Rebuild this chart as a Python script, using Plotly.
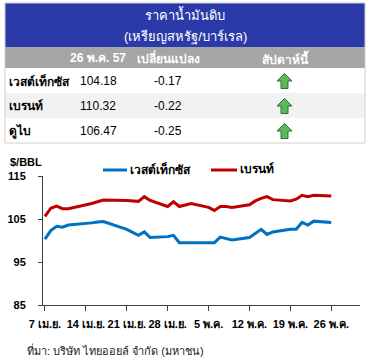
import plotly.graph_objects as go

W, H = 374, 362

# ---------------- data ----------------
dates = ["2014-04-07", "2014-04-08", "2014-04-09", "2014-04-10", "2014-04-11",
         "2014-04-14", "2014-04-15", "2014-04-16", "2014-04-17",
         "2014-04-21", "2014-04-22", "2014-04-23", "2014-04-24", "2014-04-25",
         "2014-04-28", "2014-04-29", "2014-04-30", "2014-05-01", "2014-05-02",
         "2014-05-05", "2014-05-06", "2014-05-07", "2014-05-08", "2014-05-09",
         "2014-05-12", "2014-05-13", "2014-05-14", "2014-05-15", "2014-05-16",
         "2014-05-19", "2014-05-20", "2014-05-21", "2014-05-22", "2014-05-23",
         "2014-05-26"]
wti = [100.3, 102.3, 103.3, 103.1, 103.6,
       103.9, 104.1, 104.3, 104.4,
       102.6, 101.8, 101.2, 102.0, 100.7,
       100.9, 101.2, 99.5, 99.5, 99.5,
       99.5, 99.5, 100.8, 100.4, 100.1,
       100.7, 101.6, 102.6, 101.4, 102.0,
       102.6, 102.6, 104.2, 103.6, 104.5,
       104.18]
brent = [105.6, 107.5, 108.0, 107.4, 107.4,
         108.2, 108.6, 109.0, 109.4,
         109.3, 109.2, 109.1, 110.2, 109.3,
         107.9, 109.0, 107.9, 108.3, 108.6,
         107.7, 107.0, 107.9, 107.9, 107.7,
         108.3, 109.2, 109.8, 110.2, 109.5,
         109.2, 109.6, 110.5, 110.2, 110.5,
         110.32]
series_names = ["เวสต์เท็กซัส", "เบรนท์"]
series_colors = ["#0070C0", "#C00000"]
tick_dates = ["2014-04-07", "2014-04-14", "2014-04-21", "2014-04-28",
              "2014-05-05", "2014-05-12", "2014-05-19", "2014-05-26"]
tick_labels = ["7 เม.ย.", "14 เม.ย.", "21 เม.ย.", "28 เม.ย.",
               "5 พ.ค.", "12 พ.ค.", "19 พ.ค.", "26 พ.ค."]
y_ticks = [85, 95, 105, 115]

table_title = ["ราคาน้ำมันดิบ", "(เหรียญสหรัฐ/บาร์เรล)"]
table_headers = ["26 พ.ค. 57", "เปลี่ยนแปลง", "สัปดาห์นี้"]
table_names = ["เวสต์เท็กซัส", "เบรนท์", "ดูไบ"]
table_prices = ["104.18", "110.32", "106.47"]
table_changes = ["-0.17", "-0.22", "-0.25"]

source_text = "ที่มา: บริษัท ไทยออยล์ จำกัด (มหาชน)"
unit_text = "$/BBL"

FONT = "Liberation Sans, Arial, sans-serif"


def px(x):
    return x / W


def py(y):
    return 1 - y / H


def label(text, x, y, size=12, color="black", bold=False, xanchor="center"):
    return dict(text=text, xref="paper", yref="paper", x=px(x), y=py(y),
                xanchor=xanchor, yanchor="middle", showarrow=False,
                font=dict(family=FONT, size=size, color=color,
                          weight="bold" if bold else "normal"))


fig = go.Figure()
for name, vals, col in zip(series_names, [wti, brent], series_colors):
    fig.add_trace(go.Scatter(x=dates, y=vals, mode="lines", name=name,
                             line=dict(color=col, width=3), showlegend=False))

shapes = []
annotations = []

# table frame and bands
shapes.append(dict(type="rect", xref="paper", yref="paper",
                   x0=px(5), x1=px(365), y0=py(3), y1=py(47),
                   fillcolor="#2A3AA8", line=dict(width=0)))
shapes.append(dict(type="rect", xref="paper", yref="paper",
                   x0=px(5), x1=px(365), y0=py(47), y1=py(68),
                   fillcolor="#A6A6A6", line=dict(width=0)))
shapes.append(dict(type="rect", xref="paper", yref="paper",
                   x0=px(5), x1=px(365), y0=py(93), y1=py(118),
                   fillcolor="#F2F2F2", line=dict(width=0)))
shapes.append(dict(type="rect", xref="paper", yref="paper",
                   x0=px(5), x1=px(365), y0=py(3), y1=py(143),
                   fillcolor="rgba(0,0,0,0)", line=dict(color="#CFCFCF", width=1)))

annotations.append(label(table_title[0], 185, 15, size=13, color="white"))
annotations.append(label(table_title[1], 185, 37, size=13, color="white"))
for hx, ht in zip([98, 168, 285], table_headers):
    annotations.append(label(ht, hx, 58, size=12, color="white", bold=True))

row_centers = [81, 106, 131]
for yc, nm, pr, ch in zip(row_centers, table_names, table_prices, table_changes):
    annotations.append(label(nm, 7, yc, bold=True, xanchor="left"))
    annotations.append(label(pr, 98, yc))
    annotations.append(label(ch, 168, yc))
    # up arrow icon
    cx, top = 284.5, yc - 7.5
    pts = [(cx, top), (cx + 7.5, top + 7.5), (cx + 3.5, top + 7.5),
           (cx + 3.5, top + 15), (cx - 3.5, top + 15), (cx - 3.5, top + 7.5),
           (cx - 7.5, top + 7.5)]
    path = "M " + " L ".join(f"{px(a):.5f},{py(b):.5f}" for a, b in pts) + " Z"
    shapes.append(dict(type="path", xref="paper", yref="paper", path=path,
                       fillcolor="#5DB85D", line=dict(color="#2F6E2F", width=1)))

# legend (drawn manually for exact placement)
for (x0, x1, tx), name, col in zip([(103, 127, 128), (211, 237, 238)],
                                   series_names, series_colors):
    shapes.append(dict(type="line", xref="paper", yref="paper",
                       x0=px(x0), x1=px(x1), y0=py(170), y1=py(170),
                       line=dict(color=col, width=3)))
    annotations.append(label(name, tx, 169, size=12, bold=True, xanchor="left"))

annotations.append(label(unit_text, 8, 162, size=11, bold=True, xanchor="left"))
annotations.append(label(source_text, 25, 350, size=11, color="#222222", xanchor="left"))

fig.update_layout(
    width=W, height=H,
    margin=dict(l=0, r=0, t=0, b=0, autoexpand=False),
    paper_bgcolor="white", plot_bgcolor="white",
    font=dict(family=FONT, color="black"),
    shapes=shapes, annotations=annotations,
    showlegend=False,
    xaxis=dict(domain=[px(43), px(360)], type="date", automargin=False,
               range=["2014-04-06 16:00", "2014-05-30 22:00"],
               tickvals=tick_dates, ticktext=tick_labels,
               showgrid=False, zeroline=False,
               showline=True, linecolor="#404040", linewidth=1,
               ticks="outside", ticklen=5, tickcolor="#404040",
               tickangle=0, ticklabelstandoff=4,
               tickfont=dict(family=FONT, size=11, color="black", weight="bold")),
    yaxis=dict(domain=[py(305), py(176)], range=[85, 115], tickvals=y_ticks,
               automargin=False,
               showgrid=False, zeroline=False,
               showline=True, linecolor="#404040", linewidth=1,
               ticks="outside", ticklen=4, tickcolor="#404040",
               ticklabelstandoff=10,
               tickfont=dict(family=FONT, size=11, color="black", weight="bold")),
)

fig.write_html("out.html", config={"displayModeBar": False},
               post_script="document.body.style.margin='0';document.body.style.overflow='hidden';")
